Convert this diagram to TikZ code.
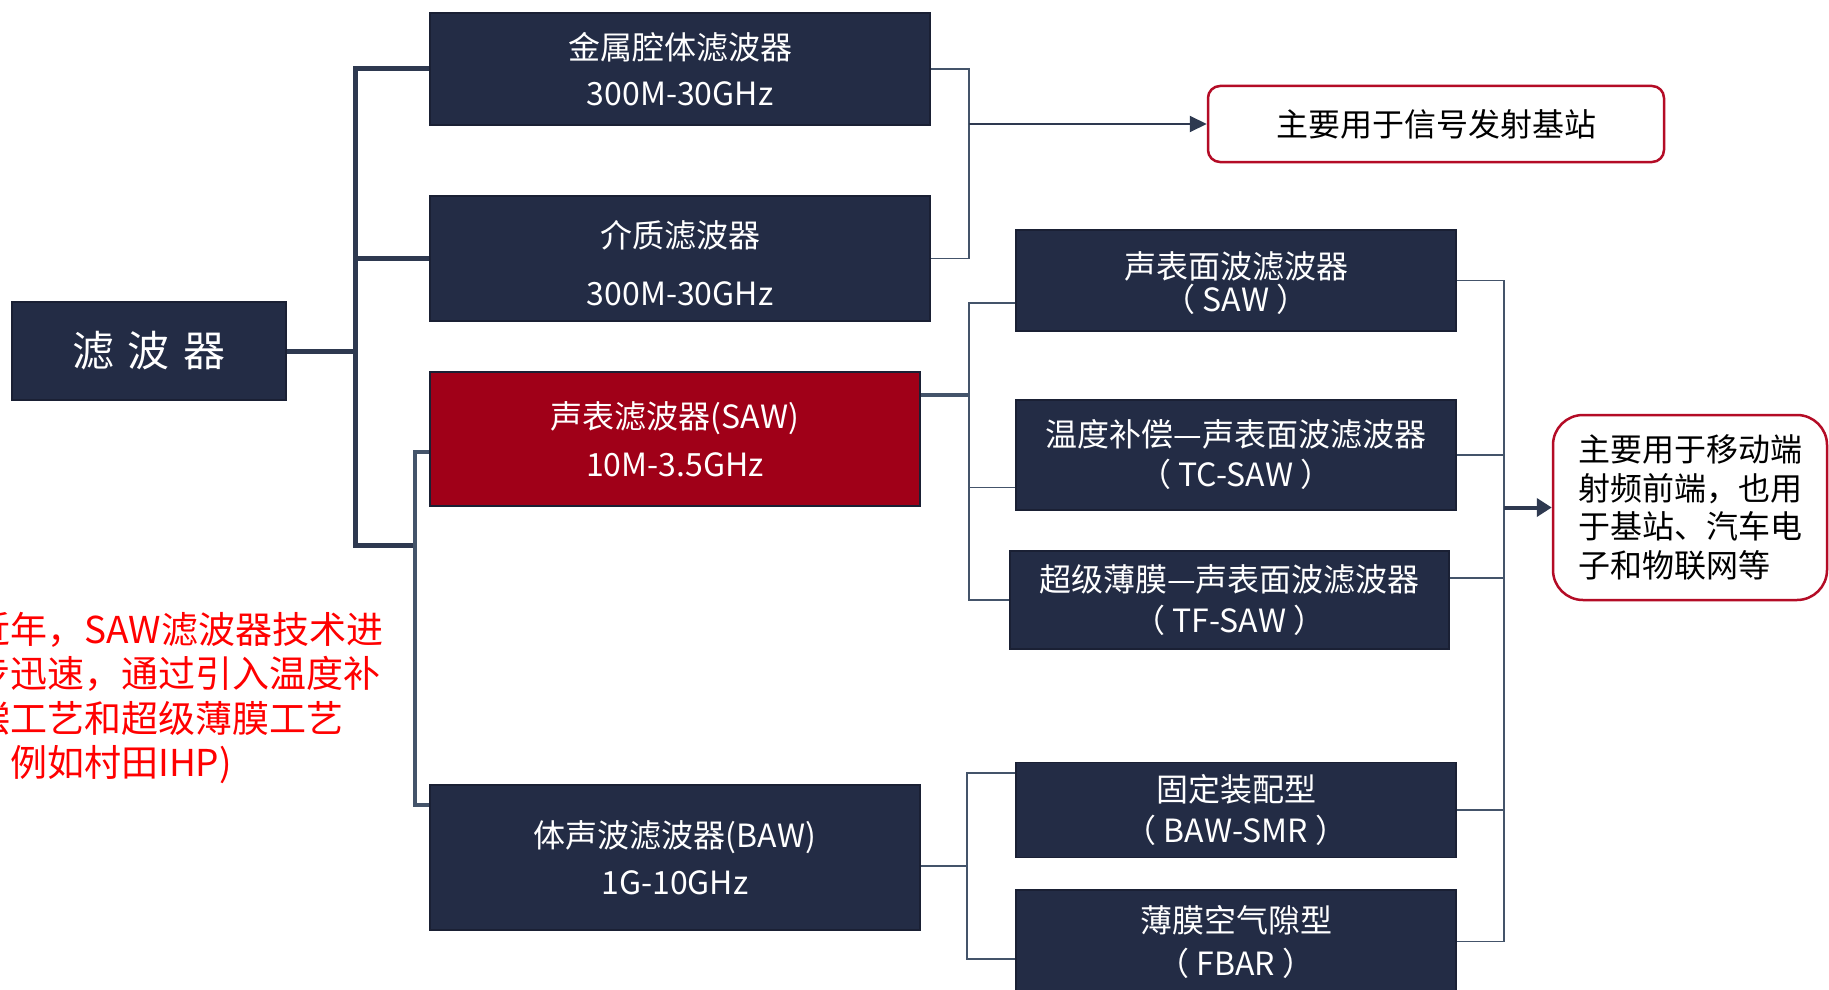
\documentclass[tikz,border=0pt]{standalone}
\usepackage{fontspec}
\setmainfont{Noto Sans CJK SC}
\usetikzlibrary{arrows.meta}
\definecolor{navy}{RGB}{35,44,69}
\definecolor{navyedge}{RGB}{26,32,52}
\definecolor{conn}{RGB}{68,84,106}
\definecolor{trunkc}{RGB}{46,57,80}
\definecolor{sawred}{RGB}{160,0,24}
\definecolor{callred}{RGB}{180,12,38}
\definecolor{notered}{RGB}{255,0,0}
\begin{document}
\begin{tikzpicture}[x=1pt,y=-1pt,
  darkbox/.style={fill=navy, draw=navyedge, line width=1.5pt, text=white, align=center, inner sep=0pt, font=\fontsize{32}{#1}\selectfont},
  darkbox/.default=40,
  redbox/.style={darkbox=#1, fill=sawred},
  callout/.style={draw=callred, line width=2.5pt, fill=white, text=black, inner sep=0pt, font=\fontsize{32}{38.7}\selectfont},
  trunkline/.style={draw=trunkc, line width=5pt},
  secline/.style={draw=conn, line width=4pt},
  thinline/.style={draw=conn, line width=1.8pt},
  midline/.style={draw=conn, line width=3.5pt},
  arrowthin/.style={draw=trunkc, line width=2pt, -{Triangle[length=17pt,width=16pt]}},
  arrowthick/.style={draw=trunkc, line width=4pt, -{Triangle[length=15pt,width=18pt]}},
]
\fill[white] (0,0) rectangle (1829,990);
\useasboundingbox (0,0) rectangle (1829,990);

% root
\node[darkbox, minimum width=274pt, minimum height=98pt, font=\fontsize{42}{50}\selectfont] (root) at (149,351) {滤\hspace{14pt}波\hspace{14pt}器};

% first level
\node[darkbox=46, minimum width=500pt, minimum height=112pt] (b1) at (680,69) {金属腔体滤波器\\300M-30GHz};
\node[darkbox=58, minimum width=500pt, minimum height=125pt] (b2) at (680,258.5) {\rule{0pt}{36pt}介质滤波器\\300M-30GHz};
\node[redbox=48, minimum width=490pt, minimum height=134pt] (b3) at (675,439) {声表滤波器(SAW)\\10M-3.5GHz};
\node[darkbox=47, minimum width=490pt, minimum height=145pt] (b4) at (675,857.5) {体声波滤波器(BAW)\\1G-10GHz};

% second level
\node[darkbox=33, minimum width=440pt, minimum height=101pt] (s1) at (1236,280.5) {\rule{0pt}{33pt}声表面波滤波器\\（ SAW ）};
\node[darkbox=40, minimum width=440pt, minimum height=110pt] (s2) at (1236,455) {温度补偿—声表面波滤波器\\（ TC-SAW ）};
\node[darkbox=41, minimum width=439pt, minimum height=98pt] (s3) at (1229.5,600) {超级薄膜—声表面波滤波器\\（ TF-SAW ）};
\node[darkbox=41, minimum width=440pt, minimum height=95pt] (s4) at (1236,810) {固定装配型\\（ BAW-SMR ）};
\node[darkbox=43, minimum width=440pt, minimum height=103pt] (s5) at (1236,941.5) {薄膜空气隙型\\（ FBAR ）};

% callouts
\node[callout, rounded corners=12pt, minimum width=456pt, minimum height=76pt] (c1) at (1436,124) {\rule{0pt}{28pt}主要用于信号发射基站};
\node[callout, rounded corners=30pt, minimum width=274pt, minimum height=185pt, align=left] (c2) at (1690,507.5) {主要用于移动端\\射频前端，也用\\于基站、汽车电\\子和物联网等};

% red note (its left part is cut by the picture's edge, as in the reference)
\node[anchor=north west, inner sep=0pt, align=left, text=notered, font=\fontsize{37}{44.5}\selectfont] (note) at (-27,612) {近年，SAW滤波器技术进\\步迅速，通过引入温度补\\偿工艺和超级薄膜工艺\\\llap{（}\hspace*{37pt}例如村田IHP)};

% helper coordinates
\coordinate (tx) at (355,545);
\coordinate (sx) at (415,545);
\coordinate (mx) at (969,0);
\coordinate (bx) at (967,0);
\coordinate (rx) at (1504,0);
\coordinate (tr) at (969,124);
\coordinate (b3in) at ([yshift=-13pt]b3.west);
\coordinate (b4in) at ([yshift=52.5pt]b4.west);
\coordinate (b3out) at ([yshift=44pt]b3.east);
\coordinate (b4out) at ([yshift=-8.5pt]b4.east);
\coordinate (s1in) at ([yshift=-22.5pt]s1.west);
\coordinate (s2in) at ([yshift=-32.5pt]s2.west);
\coordinate (s4in) at ([yshift=37pt]s4.west);
\coordinate (s5in) at ([yshift=-17.5pt]s5.west);
\coordinate (s3out) at ([yshift=22pt]s3.east);

% left trunk
\draw[trunkline] (root.east) -- (root.east -| tx);
\draw[trunkline] (b1.west) -| (tx) -- (sx);
\draw[trunkline] (b2.west) -- (b2.west -| tx);
\draw[secline] (b3in) -| (sx) |- (b4in);

% top right bracket
\draw[thinline] (b1.east) -| (tr |- b2.east) -- (b2.east);
\draw[arrowthin] (tr) -- (c1.west);

% SAW bracket
\draw[midline] (b3out) -- (b3out -| mx);
\draw[thinline] (s1in) -| (mx |- s3.west) -- (s3.west);
\draw[thinline] (s2in) -- (s2in -| mx);

% BAW bracket
\draw[thinline] (b4out) -- (b4out -| bx);
\draw[thinline] (s4in) -| (bx |- s5in) -- (s5in);

% right collector
\draw[thinline] (s1.east) -| (rx |- s5.east) -- (s5.east);
\draw[thinline] (s2.east) -- (s2.east -| rx);
\draw[thinline] (s3out) -- (s3out -| rx);
\draw[thinline] (s4.east) -- (s4.east -| rx);
\draw[arrowthick] (rx |- c2.west) -- (c2.west);
\end{tikzpicture}
\end{document}
